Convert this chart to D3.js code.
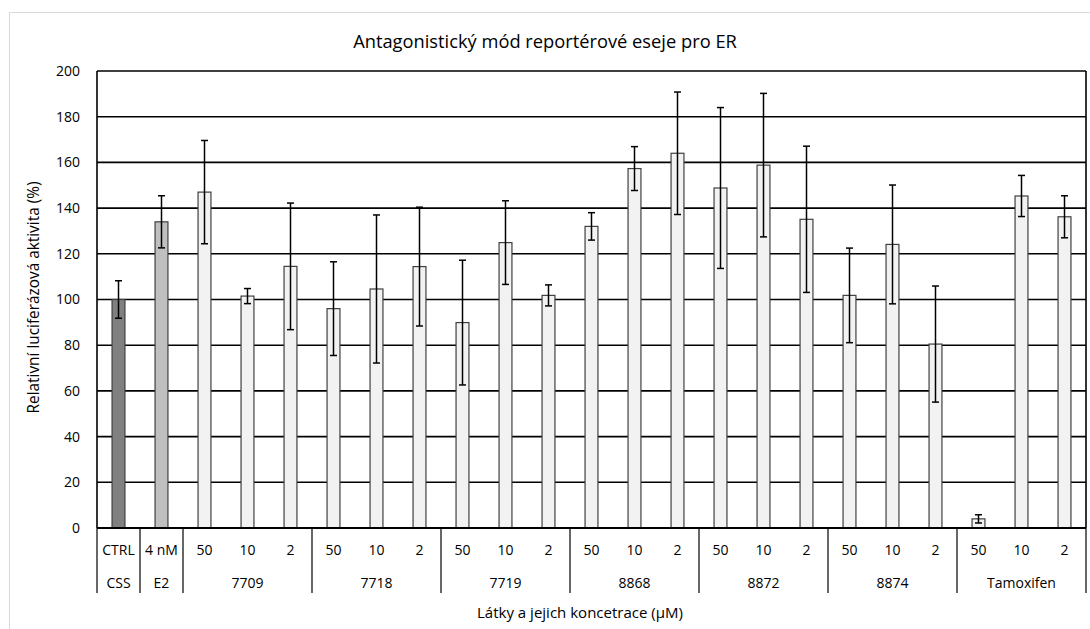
<!DOCTYPE html>
<html>
<head>
<meta charset="utf-8">
<script src="https://cdn.jsdelivr.net/npm/d3@7"></script>
<style>
  body { margin: 0; background: #fff; }
  svg { font-family: "Open Sans", "Liberation Sans", sans-serif; }
  .tick-label { font-size: 14px; fill: #000; }
</style>
</head>
<body>
<div id="chart"></div>
<script>
// 1. Data
const substances = ["CSS", "E2", "7709", "7709", "7709", "7718", "7718", "7718",
  "7719", "7719", "7719", "8868", "8868", "8868", "8872", "8872", "8872",
  "8874", "8874", "8874", "Tamoxifen", "Tamoxifen", "Tamoxifen"]
const concentrations = ["CTRL", "4 nM", "50", "10", "2", "50", "10", "2",
  "50", "10", "2", "50", "10", "2", "50", "10", "2",
  "50", "10", "2", "50", "10", "2"]
const activity = [100, 134, 147, 101.5, 114.5, 96, 104.6, 114.4,
  89.9, 124.9, 101.8, 132, 157.3, 164, 148.8, 158.8, 135.1,
  101.8, 124.1, 80.5, 4, 145.3, 136.2]
const errors = [8.2, 11.4, 22.6, 3.3, 27.7, 20.5, 32.4, 26,
  27.3, 18.3, 4.6, 6, 9.6, 26.8, 35.2, 31.4, 32,
  20.7, 26, 25.4, 1.8, 9, 9.2]
const fills = ["#808080", "#bfbfbf"]
const yTicks = [0, 20, 40, 60, 80, 100, 120, 140, 160, 180, 200]

const dataset = activity.map((v, i) => ({
  key: i,
  substance: substances[i],
  conc: concentrations[i],
  value: v,
  err: errors[i],
}))

const yAccessor = d => d.value
const xAccessor = d => d.key

// 2. Dimensions
let dimensions = {
  width: 1090,
  height: 629,
  margin: { top: 71, right: 4, bottom: 101, left: 97 },
}
dimensions.boundedWidth = dimensions.width - dimensions.margin.left - dimensions.margin.right
dimensions.boundedHeight = dimensions.height - dimensions.margin.top - dimensions.margin.bottom

// 3. Canvas
const wrapper = d3.select("#chart")
  .append("svg")
    .attr("width", dimensions.width)
    .attr("height", dimensions.height)

wrapper.append("rect")
    .attr("x", 9.5)
    .attr("y", 12.5)
    .attr("width", 1200)
    .attr("height", 800)
    .attr("fill", "none")
    .attr("stroke", "#d9d9d9")

const bounds = wrapper.append("g")
    .attr("transform", `translate(${dimensions.margin.left}, ${dimensions.margin.top})`)

// 4. Scales
const yScale = d3.scaleLinear()
  .domain([0, 200])
  .range([dimensions.boundedHeight, 0])

const xScale = d3.scaleBand()
  .domain(dataset.map(xAccessor))
  .range([0, dimensions.boundedWidth])

const barWidth = xScale.bandwidth() * 0.3

// 5. Gridlines + bars
bounds.append("g")
  .selectAll("line")
  .data(yTicks.filter(t => t > 0))
  .join("line")
    .attr("x1", 0)
    .attr("x2", dimensions.boundedWidth)
    .attr("y1", d => yScale(d))
    .attr("y2", d => yScale(d))
    .attr("stroke", "#000")
    .attr("stroke-width", 1.6)

bounds.append("g")
  .selectAll("rect")
  .data(dataset)
  .join("rect")
    .attr("x", d => xScale(xAccessor(d)) + (xScale.bandwidth() - barWidth) / 2)
    .attr("y", d => yScale(yAccessor(d)))
    .attr("width", barWidth)
    .attr("height", d => dimensions.boundedHeight - yScale(yAccessor(d)))
    .attr("fill", (d, i) => fills[i] || "#f2f2f2")
    .attr("stroke", "#404040")
    .attr("stroke-width", 1.2)

// error bars
const errG = bounds.append("g")
  .selectAll("g")
  .data(dataset)
  .join("g")
    .attr("transform", d => `translate(${xScale(xAccessor(d)) + xScale.bandwidth() / 2}, 0)`)
    .attr("stroke", "#000")
    .attr("stroke-width", 1.5)

errG.append("line")
    .attr("y1", d => yScale(d.value + d.err))
    .attr("y2", d => yScale(d.value - d.err))
errG.append("line")
    .attr("x1", -3.5).attr("x2", 3.5)
    .attr("y1", d => yScale(d.value + d.err))
    .attr("y2", d => yScale(d.value + d.err))
errG.append("line")
    .attr("x1", -3.5).attr("x2", 3.5)
    .attr("y1", d => yScale(d.value - d.err))
    .attr("y2", d => yScale(d.value - d.err))

// 6. Peripherals
// plot frame: left + right
bounds.append("line")
    .attr("x1", 0).attr("x2", 0)
    .attr("y1", 0).attr("y2", dimensions.boundedHeight)
    .attr("stroke", "#000").attr("stroke-width", 1.6)
bounds.append("line")
    .attr("x1", dimensions.boundedWidth).attr("x2", dimensions.boundedWidth)
    .attr("y1", 0).attr("y2", dimensions.boundedHeight)
    .attr("stroke", "#000").attr("stroke-width", 1.6)

// y axis labels
bounds.append("g")
  .selectAll("text")
  .data(yTicks)
  .join("text")
    .attr("class", "tick-label")
    .attr("x", -17)
    .attr("y", d => yScale(d))
    .attr("dy", "0.35em")
    .attr("text-anchor", "end")
    .text(d => d)

// x axis line
bounds.append("line")
    .attr("x1", 0).attr("x2", dimensions.boundedWidth)
    .attr("y1", dimensions.boundedHeight).attr("y2", dimensions.boundedHeight)
    .attr("stroke", "#000").attr("stroke-width", 2)

// concentration row
bounds.append("g")
  .selectAll("text")
  .data(dataset)
  .join("text")
    .attr("class", "tick-label")
    .attr("x", d => xScale(xAccessor(d)) + xScale.bandwidth() / 2)
    .attr("y", dimensions.boundedHeight + 27)
    .attr("text-anchor", "middle")
    .text(d => d.conc)

// substance groups
const groups = d3.groups(dataset, d => d.substance).map(([name, items]) => ({
  name,
  start: xScale(items[0].key),
  end: xScale(items[items.length - 1].key) + xScale.bandwidth(),
}))

bounds.append("g")
  .selectAll("text")
  .data(groups)
  .join("text")
    .attr("class", "tick-label")
    .attr("x", d => (d.start + d.end) / 2)
    .attr("y", dimensions.boundedHeight + 60)
    .attr("text-anchor", "middle")
    .text(d => d.name)

const separators = [0, ...groups.map(g => g.end)]
bounds.append("g")
  .selectAll("line")
  .data(separators)
  .join("line")
    .attr("x1", d => d).attr("x2", d => d)
    .attr("y1", dimensions.boundedHeight)
    .attr("y2", dimensions.boundedHeight + 65)
    .attr("stroke", "#000")
    .attr("stroke-width", 1.2)

// titles
// shrink/grow a label so it spans roughly the width it has in the original
function fitText(sel, target) {
  const base = parseFloat(sel.style("font-size"))
  const len = sel.node().getComputedTextLength()
  sel.style("font-size", `${(base * target / len).toFixed(2)}px`)
}

wrapper.append("text")
    .attr("x", 545)
    .attr("y", 48)
    .attr("text-anchor", "middle")
    .style("font-size", "16px")
    .text("Antagonistický mód reportérové eseje pro ER")
    .call(fitText, 384)

wrapper.append("text")
    .attr("transform", `translate(39, ${dimensions.margin.top + dimensions.boundedHeight / 2 - 2}) rotate(-90)`)
    .attr("text-anchor", "middle")
    .style("font-size", "13px")
    .text("Relativní luciferázová aktivita (%)")
    .call(fitText, 232)

wrapper.append("text")
    .attr("x", 580)
    .attr("y", 618)
    .attr("text-anchor", "middle")
    .style("font-size", "14px")
    .text("Látky a jejich koncetrace (µM)")
    .call(fitText, 206)
</script>
</body>
</html>
